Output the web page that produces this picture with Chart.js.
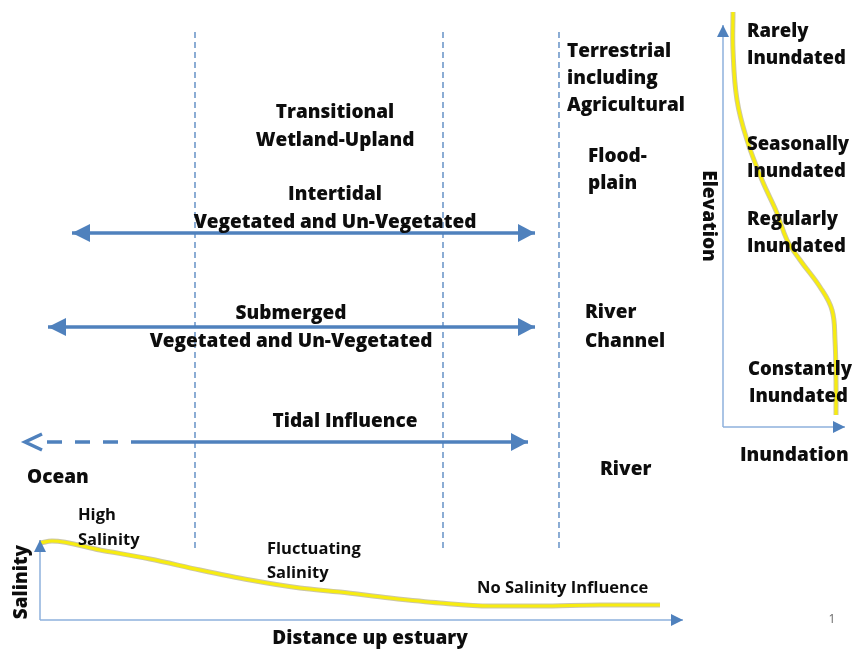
<!DOCTYPE html>
<html>
<head>
<meta charset="utf-8">
<script src="https://cdn.jsdelivr.net/npm/chart.js@4"></script>
<style>
  html, body { margin: 0; padding: 0; background: #fff; overflow: hidden; }
  canvas { display: block; }
</style>
</head>
<body>
<canvas id="diagram" width="854" height="649"></canvas>
<script>
// diagram units: x 0..854 left->right, y 0..649 top->bottom

// dashed zone dividers
const boundaryX = [195, 443, 559];
const boundaryEnds = [32, 550];

// habitat arrows (Intertidal, Submerged, Tidal Influence)
const arrowLeft = [72, 48, 133];
const arrowRight = [535, 535, 528];
const arrowLevel = [233, 327, 442];
const tidalDashedLeft = 47;

// salinity falls with distance up the estuary
const distanceUp = [40, 52, 100, 150, 200, 250, 300, 340, 390, 440, 490, 540, 600, 660];
const salinity = [543, 541, 550, 559, 570, 580, 588, 592, 598, 603, 606, 606, 605, 605];

// inundation rises as elevation drops
const inundation = [733, 733, 737, 747, 762, 777, 787, 800, 820, 832, 835, 836, 836];
const elevation = [12, 50, 100, 140, 180, 213, 240, 260, 287, 310, 340, 380, 415];

// axis frames: [originX, originY, tipTop, tipRight]
const salinityAxis = [40, 620, 540, 683];
const elevationAxis = [723, 427, 25, 845];

const BLUE = "#4f81bd";
const AXIS = "#8eb1dc";
const YELLOW = "#f7ec10";
const HEAD = '800 19px "Open Sans"';
const SIDE = '800 18.5px "Open Sans"';
const NOTE = '700 16.5px "Open Sans"';

const labels = [
  ["Transitional", 335, 113, "center", HEAD],
  ["Wetland-Upland", 335, 141, "center", HEAD],
  ["Intertidal", 335, 195, "center", HEAD],
  ["Vegetated and Un-Vegetated", 335, 223, "center", HEAD],
  ["Submerged", 291, 314, "center", HEAD],
  ["Vegetated and Un-Vegetated", 291, 342, "center", HEAD],
  ["Tidal Influence", 345, 422, "center", HEAD],
  ["Terrestrial", 567, 52, "left", HEAD],
  ["including", 567, 79, "left", HEAD],
  ["Agricultural", 567, 106, "left", HEAD],
  ["Flood-", 588, 157, "left", HEAD],
  ["plain", 588, 184, "left", HEAD],
  ["River", 585, 313, "left", HEAD],
  ["Channel", 585, 342, "left", HEAD],
  ["River", 600, 470, "left", HEAD],
  ["Ocean", 27, 478, "left", HEAD],
  ["Rarely", 747, 32, "left", SIDE],
  ["Inundated", 747, 59, "left", SIDE],
  ["Seasonally", 747, 145, "left", SIDE],
  ["Inundated", 747, 172, "left", SIDE],
  ["Regularly", 747, 220, "left", SIDE],
  ["Inundated", 747, 247, "left", SIDE],
  ["Constantly", 748, 370, "left", SIDE],
  ["Inundated", 749, 397, "left", SIDE],
  ["Inundation", 740, 456, "left", HEAD],
  ["Distance up estuary", 370, 639, "center", HEAD],
  ["Elevation", 708, 216, "center", HEAD, Math.PI / 2],
  ["Salinity", 22, 582, "center", HEAD, -Math.PI / 2],
  ["High", 78, 515, "left", NOTE],
  ["Salinity", 78, 540, "left", NOTE],
  ["Fluctuating", 267, 549, "left", NOTE],
  ["Salinity", 267, 573, "left", NOTE],
  ["No Salinity Influence", 477, 588, "left", NOTE],
  ["1", 832, 620, "center", '400 12px "Open Sans"'],
];

const pts = (xs, ys) => xs.map((x, i) => ({ x, y: ys[i] }));

const datasets = [];

boundaryX.forEach((x) => {
  datasets.push({
    data: [{ x, y: boundaryEnds[0] }, { x, y: boundaryEnds[1] }],
    borderColor: BLUE, borderWidth: 1.3, borderDash: [6, 4], order: 3,
  });
});

arrowLeft.forEach((left, i) => {
  datasets.push({
    data: [{ x: left, y: arrowLevel[i] }, { x: arrowRight[i], y: arrowLevel[i] }],
    borderColor: BLUE, borderWidth: 3.5, order: 2,
    arrows: { start: i < 2 ? { len: 18, half: 9 } : null, end: { len: 17, half: 9 } },
  });
});

// dashed seaward part of the tidal arrow, open head at the ocean end
datasets.push({
  data: [{ x: tidalDashedLeft, y: arrowLevel[2] }, { x: arrowLeft[2], y: arrowLevel[2] }],
  borderColor: BLUE, borderWidth: 3.5, borderDash: [15, 13], order: 2,
  arrows: { start: { len: 17, half: 8, open: true, gap: 22 } },
});

[salinityAxis, elevationAxis].forEach(([ox, oy, top, right]) => {
  datasets.push({
    data: [{ x: ox, y: oy }, { x: ox, y: top }],
    borderColor: AXIS, borderWidth: 1.5, order: 2,
    arrows: { end: { len: 12, half: 6 } },
  });
  datasets.push({
    data: [{ x: ox, y: oy }, { x: right, y: oy }],
    borderColor: AXIS, borderWidth: 1.5, order: 2,
    arrows: { end: { len: 12, half: 6 } },
  });
});

[pts(distanceUp, salinity), pts(inundation, elevation)].forEach((curve, i) => {
  const mode = i === 0 ? { cubicInterpolationMode: "monotone" } : { tension: 0.4 };
  datasets.push({ data: curve, borderColor: "rgba(140,128,60,0.45)", borderWidth: 5, order: 1, ...mode });
  datasets.push({ data: curve, borderColor: YELLOW, borderWidth: 3.2, order: 0, ...mode });
});

const arrowHeads = {
  id: "arrowHeads",
  afterDatasetsDraw(chart) {
    const ctx = chart.ctx;
    chart.data.datasets.forEach((ds, i) => {
      if (!ds.arrows) return;
      const pts = chart.getDatasetMeta(i).data;
      const n = pts.length;
      const draw = (tip, from, spec) => {
        const ang = Math.atan2(tip.y - from.y, tip.x - from.x);
        const g = spec.gap || 0;
        const tx = tip.x + Math.cos(ang) * g, ty = tip.y + Math.sin(ang) * g;
        ctx.save();
        ctx.translate(tx, ty);
        ctx.rotate(ang);
        ctx.beginPath();
        ctx.moveTo(-spec.len, -spec.half);
        ctx.lineTo(0, 0);
        ctx.lineTo(-spec.len, spec.half);
        if (spec.open) {
          ctx.strokeStyle = BLUE;
          ctx.lineWidth = 3.5;
          ctx.lineJoin = "miter";
          ctx.stroke();
        } else {
          ctx.closePath();
          ctx.fillStyle = BLUE;
          ctx.fill();
        }
        ctx.restore();
      };
      if (ds.arrows.end) draw(pts[n - 1], pts[n - 2], ds.arrows.end);
      if (ds.arrows.start) draw(pts[0], pts[1], ds.arrows.start);
    });
  },
};

const textLabels = {
  id: "textLabels",
  afterDraw(chart) {
    const ctx = chart.ctx;
    const sx = chart.scales.x, sy = chart.scales.y;
    labels.forEach(([text, x, y, align, font, rot]) => {
      ctx.save();
      ctx.translate(sx.getPixelForValue(x), sy.getPixelForValue(y));
      if (rot) ctx.rotate(rot);
      ctx.font = font;
      ctx.fillStyle = text === "1" ? "#666" : "#0d0d0d";
      ctx.textAlign = align;
      ctx.textBaseline = "middle";
      ctx.fillText(text, 0, 0);
      ctx.restore();
    });
  },
};

new Chart(document.getElementById("diagram"), {
  type: "scatter",
  data: { datasets: datasets.map((d) => ({ showLine: true, pointRadius: 0, fill: false, ...d })) },
  options: {
    responsive: false,
    animation: false,
    devicePixelRatio: 1,
    layout: { padding: 0 },
    plugins: { legend: { display: false }, tooltip: { enabled: false } },
    scales: {
      x: { type: "linear", min: 0, max: 854, display: false },
      y: { type: "linear", min: 0, max: 649, reverse: true, display: false },
    },
  },
  plugins: [arrowHeads, textLabels],
});
</script>
</body>
</html>
